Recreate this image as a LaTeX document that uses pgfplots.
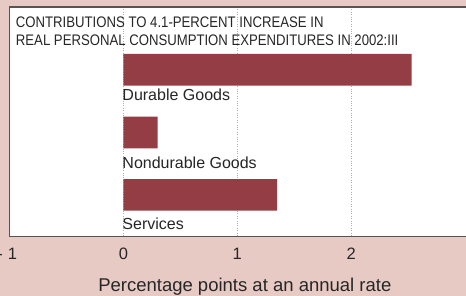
\documentclass[border=0pt]{standalone}
\usepackage{pgfplots}
\pgfplotsset{compat=1.18}
\usepackage{fontspec}
\setmainfont{Liberation Sans}
\newfontfamily\narrowfont[FakeStretch=0.86]{Liberation Sans}
\definecolor{bgpink}{HTML}{E8CAC5}
\definecolor{barred}{HTML}{943D45}
\definecolor{framegray}{HTML}{555555}
\begin{document}
\begin{tikzpicture}
\useasboundingbox (0pt,0pt) rectangle (466pt,296pt);
\fill[bgpink] (0pt,0pt) rectangle (466pt,296pt);
\clip (0pt,0pt) rectangle (466pt,296pt);
\begin{axis}[
  at={(9.5pt,59.3pt)}, anchor=south west,
  scale only axis, width=467pt, height=229.7pt,
  xmin=-1, xmax=3.1,
  y dir=reverse, ymin=7, ymax=236.7,
  ytick=\empty,
  xtick={-1,0,1,2},
  xticklabels={{\hspace{6pt}\makebox[0pt][r]{-\hspace{5pt}}1},0,1,2},
  major tick length=0pt,
  xmajorgrids,
  grid style={dotted, gray!65, line width=0.6pt},
  axis line style={framegray, line width=1.5pt},
  axis background/.style={fill=white},
  xticklabel style={font=\fontsize{16.5}{16.5}\selectfont, text=black!85, inner sep=0pt, yshift=-11pt},
  /pgf/number format/assume math mode=true,
  clip=false,
]
\addplot[xbar, bar width=31.7, fill=barred, draw=none]
  coordinates {(2.53,69.8) (0.30,132.5) (1.35,194.9)};
\node[anchor=base west, inner sep=0pt, font=\narrowfont\fontsize{15.3}{18}\selectfont, text=black!85]
  at (axis cs:-0.945,28) {CONTRIBUTIONS TO 4.1-PERCENT INCREASE IN};
\node[anchor=base west, inner sep=0pt, font=\narrowfont\fontsize{15.3}{18}\selectfont, text=black!85]
  at (axis cs:-0.945,46) {REAL PERSONAL CONSUMPTION EXPENDITURES IN 2002:III};
\node[anchor=base west, inner sep=0pt, font=\fontsize{16}{16}\selectfont, text=black!85]
  at (axis cs:-0.01,100.7) {Durable Goods};
\node[anchor=base west, inner sep=0pt, font=\fontsize{16}{16}\selectfont, text=black!85]
  at (axis cs:-0.01,168.3) {Nondurable Goods};
\node[anchor=base west, inner sep=0pt, font=\fontsize{16}{16}\selectfont, text=black!85]
  at (axis cs:-0.01,230) {Services};
\node[anchor=base, inner sep=0pt, font=\fontsize{18.5}{18.5}\selectfont, text=black!85]
  at (axis cs:1.066,291.7) {Percentage points at an annual rate};
\end{axis}
\end{tikzpicture}
\end{document}
